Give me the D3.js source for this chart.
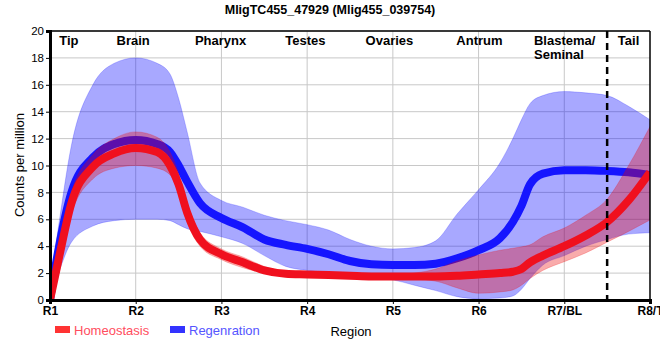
<!DOCTYPE html>
<html>
<head>
<meta charset="utf-8">
<script src="https://cdn.jsdelivr.net/npm/d3@7"></script>
<style>
body { margin: 0; background: #fff; }
text { font-family: "Liberation Sans", Arial, sans-serif; }
</style>
</head>
<body>
<div id="chart"></div>
<script>
// positions along the worm (R1 = 1 ... R8 = 8)
var pos = [1, 1.1, 1.25, 1.5, 1.75, 2, 2.25, 2.4, 2.5, 2.6, 2.75, 3, 3.25, 3.5, 3.75, 4, 4.25, 4.5, 4.75, 5, 5.25, 5.5, 5.75, 6, 6.25, 6.4, 6.5, 6.6, 6.75, 7, 7.25, 7.5, 7.75, 8];

var homeo    = [0, 3.0, 7.2, 9.9, 10.9, 11.3, 11.0, 10.0, 8.6, 6.5, 4.5, 3.4, 2.8, 2.2, 1.95, 1.9, 1.85, 1.8, 1.75, 1.75, 1.75, 1.75, 1.8, 1.9, 2.0, 2.1, 2.3, 2.8, 3.3, 4.0, 4.8, 5.8, 7.4, 9.5];
var homeoHi  = [0.2, 3.6, 8.0, 10.8, 12.0, 12.5, 12.1, 11.0, 9.4, 7.2, 5.0, 3.8, 3.2, 2.5, 2.1, 2.0, 1.95, 1.9, 1.85, 1.85, 2.0, 2.3, 2.9, 3.35, 3.7, 3.85, 3.95, 4.1, 4.7, 5.35, 6.3, 7.5, 10.0, 12.9];
var homeoLo  = [0, 2.4, 6.4, 9.0, 9.8, 10.0, 9.8, 9.3, 8.0, 5.8, 4.0, 3.0, 2.4, 2.0, 1.8, 1.8, 1.75, 1.7, 1.65, 1.65, 1.55, 1.4, 0.9, 0.5, 0.6, 0.75, 1.1, 1.6, 2.2, 2.85, 3.5, 4.3, 5.1, 5.95];

var regen    = [0, 3.8, 8.0, 10.6, 11.6, 11.9, 11.6, 11.0, 10.0, 8.8, 7.2, 6.1, 5.4, 4.5, 4.1, 3.8, 3.4, 2.9, 2.65, 2.6, 2.6, 2.7, 3.1, 3.7, 4.6, 5.8, 7.0, 8.6, 9.4, 9.65, 9.65, 9.6, 9.5, 9.3];
var regenHi  = [1.0, 5.5, 11.5, 16.0, 17.6, 18.0, 17.6, 16.8, 15.0, 12.5, 8.7, 7.4, 6.9, 6.3, 5.9, 5.6, 5.2, 4.5, 4.0, 3.8, 3.9, 4.4, 6.4, 8.2, 10.2, 12.0, 13.4, 14.6, 15.2, 15.5, 15.4, 15.2, 14.4, 13.4];
var regenLo  = [0, 2.0, 4.3, 5.5, 5.9, 6.0, 6.0, 5.9, 5.6, 5.3, 5.1, 4.7, 4.2, 3.3, 2.5, 2.2, 2.0, 1.9, 1.7, 1.5, 1.1, 0.7, 0.25, 0.1, 0.15, 0.3, 0.8, 1.6, 2.6, 3.3, 4.0, 4.5, 4.9, 5.0];

var tickLabels = ["R1", "R2", "R3", "R4", "R5", "R6", "R7/BL", "R8/T"];
var regionNames = ["Tip", "Brain", "Pharynx", "Testes", "Ovaries", "Antrum", "Blastema/", "Tail"];
var regionAt = [1.22, 1.97, 2.99, 3.98, 4.96, 6.01, 6.98, 7.75];

var margin = {top: 31, right: 10, bottom: 60, left: 50},
    width = 660 - margin.left - margin.right,
    height = 360 - margin.top - margin.bottom;

var x = d3.scaleLinear().domain([1, 8]).range([0, width]);
var y = d3.scaleLinear().domain([0, 20]).range([height, 0]);

var svg = d3.select("#chart").append("svg")
    .attr("width", 660)
    .attr("height", 360);

svg.append("text")
    .attr("x", 330)
    .attr("y", 14)
    .attr("text-anchor", "middle")
    .style("font-size", "12.5px")
    .style("font-weight", "bold")
    .text("MligTC455_47929 (Mlig455_039754)");

var g = svg.append("g")
    .attr("transform", "translate(" + margin.left + "," + margin.top + ")");

g.append("clipPath").attr("id", "clip")
  .append("rect").attr("width", width).attr("height", height);

// grid
g.selectAll(".hgrid")
    .data(d3.range(2, 21, 2))
  .enter().append("line")
    .attr("x1", 0).attr("x2", width)
    .attr("y1", function(d) { return y(d); })
    .attr("y2", function(d) { return y(d); })
    .attr("stroke", "#c8c8c8").attr("stroke-width", 1);

g.selectAll(".vgrid")
    .data(d3.range(2, 8))
  .enter().append("line")
    .attr("x1", function(d) { return x(d); })
    .attr("x2", function(d) { return x(d); })
    .attr("y1", 0).attr("y2", height)
    .attr("stroke", "#c8c8c8").attr("stroke-width", 1);

var rows = pos.map(function(p, i) {
    return {p: p, h: homeo[i], hHi: homeoHi[i], hLo: homeoLo[i], r: regen[i], rHi: regenHi[i], rLo: regenLo[i]};
});

var area = function(hi, lo) {
    return d3.area()
        .x(function(d) { return x(d.p); })
        .y0(function(d) { return y(d[lo]); })
        .y1(function(d) { return y(d[hi]); })
        .curve(d3.curveMonotoneX);
};
var line = function(key) {
    return d3.line()
        .x(function(d) { return x(d.p); })
        .y(function(d) { return y(d[key]); })
        .curve(d3.curveMonotoneX);
};

var plot = g.append("g").attr("clip-path", "url(#clip)");

plot.append("path").datum(rows)
    .attr("d", area("rHi", "rLo"))
    .attr("fill", "#0000ff").attr("fill-opacity", 0.34)
    .attr("stroke", "#0000ff").attr("stroke-opacity", 0.2).attr("stroke-width", 1);

plot.append("path").datum(rows)
    .attr("d", line("r"))
    .attr("fill", "none").attr("stroke", "#1515ff").attr("stroke-width", 8);

plot.append("path").datum(rows)
    .attr("d", area("hHi", "hLo"))
    .attr("fill", "#ee0000").attr("fill-opacity", 0.33)
    .attr("stroke", "#ee0000").attr("stroke-opacity", 0.2).attr("stroke-width", 1);

plot.append("path").datum(rows)
    .attr("d", line("h"))
    .attr("fill", "none").attr("stroke", "#f0101e").attr("stroke-width", 8);

// dashed boundary between blastema and tail
g.append("line")
    .attr("x1", x(7.5)).attr("x2", x(7.5))
    .attr("y1", 0).attr("y2", height + 5)
    .attr("stroke", "#000").attr("stroke-width", 2.5)
    .attr("stroke-dasharray", "7,5");

// frame
g.append("line").attr("x1", 0).attr("x2", width).attr("y1", 0).attr("y2", 0)
    .attr("stroke", "#000").attr("stroke-width", 1.5);
g.append("line").attr("x1", width).attr("x2", width).attr("y1", 0).attr("y2", height)
    .attr("stroke", "#000").attr("stroke-width", 1.5);

// region names
g.selectAll(".region")
    .data(regionNames)
  .enter().append("text")
    .attr("x", function(d, i) { return x(regionAt[i]); })
    .attr("y", 14)
    .attr("text-anchor", function(d) { return d == "Blastema/" ? "start" : "middle"; })
    .attr("dx", function(d) { return d == "Blastema/" ? -x(regionAt[6]) + 484 : 0; })
    .style("font-size", "13px")
    .style("font-weight", "bold")
    .text(function(d) { return d; });

g.append("text")
    .attr("x", 484)
    .attr("y", 28)
    .style("font-size", "13px")
    .style("font-weight", "bold")
    .text("Seminal");

// y axis
var yAxis = g.append("g")
    .call(d3.axisLeft(y).tickValues(d3.range(0, 21, 2)).tickSize(4).tickPadding(2));
yAxis.select(".domain").attr("stroke-width", 3);
yAxis.selectAll("text").style("font-size", "11.5px").style("font-family", "Liberation Sans, Arial, sans-serif").attr("fill", "#000");

// x axis
var xAxis = g.append("g")
    .attr("transform", "translate(0," + height + ")")
    .call(d3.axisBottom(x).tickValues(d3.range(1, 9)).tickSize(4).tickPadding(2)
        .tickFormat(function(d, i) { return tickLabels[i]; }));
xAxis.select(".domain").attr("stroke-width", 3);
xAxis.selectAll("text").style("font-size", "12px").style("font-weight", "bold")
    .style("font-family", "Liberation Sans, Arial, sans-serif").attr("fill", "#000");

svg.append("text")
    .attr("transform", "translate(24," + 165 + ") rotate(-90)")
    .attr("text-anchor", "middle")
    .style("font-size", "13px")
    .text("Counts per million");

svg.append("text")
    .attr("x", 351)
    .attr("y", 336)
    .attr("text-anchor", "middle")
    .style("font-size", "13px")
    .text("Region");

// legend
var legend = [{name: "Homeostasis", color: "#ff3333", text: "#ff4d5e", x: 55},
              {name: "Regenration", color: "#3333ff", text: "#5555ff", x: 170}];
var lg = svg.selectAll(".legend")
    .data(legend)
  .enter().append("g")
    .attr("transform", function(d) { return "translate(" + d.x + ",330)"; });
lg.append("rect")
    .attr("x", 0).attr("y", -4).attr("width", 15).attr("height", 7)
    .attr("fill", function(d) { return d.color; });
lg.append("text")
    .attr("x", 19).attr("y", 5)
    .style("font-size", "13px")
    .attr("fill", function(d) { return d.text; })
    .text(function(d) { return d.name; });
</script>
</body>
</html>
